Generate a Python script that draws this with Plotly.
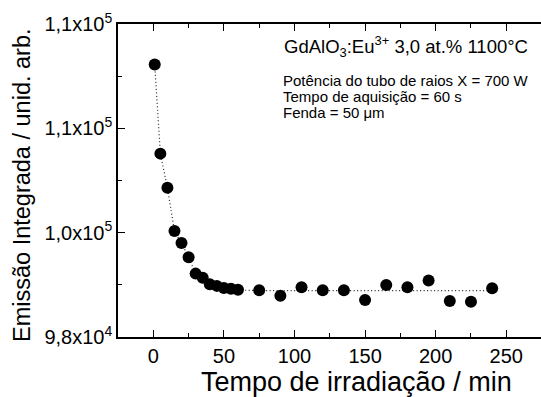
import plotly.graph_objects as go

# Data
time_min = [1, 5, 10, 15, 20, 25, 30, 35, 40, 45, 50, 55, 60, 75, 90, 105,
            120, 135, 150, 165, 180, 195, 210, 225, 240]
emission = [108450, 105030, 103720, 102060, 101600, 101060, 100430, 100270,
            100020, 99960, 99880, 99850, 99810, 99790, 99580, 99910, 99790,
            99790, 99420, 99990, 99910, 100170, 99380, 99350, 99870]

# dotted fit curve
fit_x = [1, 5, 10, 15, 20, 25, 30, 35, 40, 45, 50, 60, 75, 240]
fit_y = [108450, 105030, 103720, 102060, 101600, 101060, 100430, 100270,
         100020, 99950, 99880, 99800, 99780, 99775]

y_tickvals = [98000, 102000, 106000, 110000]
y_ticktext = ["9,8x10<sup>4</sup>", "1,0x10<sup>5</sup>",
              "1,1x10<sup>5</sup>", "1,1x10<sup>5</sup>"]
y_minor = [100000, 104000, 108000]
x_tickvals = [0, 50, 100, 150, 200, 250]
x_minor = [-25, 25, 75, 125, 175, 225, 275]

FONT = "Liberation Sans, Arial, sans-serif"

fig = go.Figure()
fig.add_trace(go.Scatter(
    x=fit_x, y=fit_y, mode="lines",
    line=dict(color="#222222", width=1.2, dash="1px,2.5px"),
    hoverinfo="skip", showlegend=False))
fig.add_trace(go.Scatter(
    x=time_min, y=emission, mode="markers",
    marker=dict(color="black", size=12),
    showlegend=False))

W, H = 541, 397
L, R, T, B = 118, 0, 24, 60
pw, ph = W - L - R, H - T - B


def px(xp):
    return (xp - L) / pw


def py(yp):
    return (H - B - yp) / ph


fig.update_layout(
    width=W, height=H,
    margin=dict(l=L, r=R, t=T, b=B),
    plot_bgcolor="white", paper_bgcolor="white",
    font=dict(family=FONT, color="black", size=20),
    xaxis=dict(
        range=[-25, 274.6], tickmode="array", tickvals=x_tickvals,
        ticks="inside", ticklen=7, tickwidth=1, tickcolor="black",
        showline=True, linecolor="black", linewidth=1.5, mirror="ticks",
        showgrid=False, zeroline=False,
        tickfont=dict(size=20),
        minor=dict(tickmode="array", tickvals=x_minor, ticks="inside",
                   ticklen=4, tickcolor="black", showgrid=False),
    ),
    yaxis=dict(
        range=[98000, 110000], tickmode="array", tickvals=y_tickvals,
        ticktext=y_ticktext,
        ticks="inside", ticklen=7, tickwidth=1, tickcolor="black",
        showline=True, linecolor="black", linewidth=1.5, mirror=False,
        showgrid=False, zeroline=False,
        tickfont=dict(size=20),
        minor=dict(tickmode="array", tickvals=y_minor, ticks="inside",
                   ticklen=4, tickcolor="black", showgrid=False),
    ),
)

ann = []
ann.append(dict(text="Emissão Integrada / unid. arb.", textangle=-90,
                x=px(22), y=py(185), xref="paper", yref="paper",
                xanchor="center", yanchor="middle", showarrow=False,
                font=dict(size=23.5)))
ann.append(dict(text="Tempo de irradiação / min",
                x=px(356), y=py(382), xref="paper", yref="paper",
                xanchor="center", yanchor="middle", showarrow=False,
                font=dict(size=27)))
ann.append(dict(text="GdAlO<sub>3</sub>:Eu<sup>3+</sup> 3,0 at.% 1100°C",
                x=px(282), y=py(46), xref="paper", yref="paper",
                xanchor="left", yanchor="middle", showarrow=False,
                font=dict(size=18.5)))
for txt, yc in [("Potência do tubo de raios X = 700 W", 80),
                ("Tempo de aquisição = 60 s", 96.5),
                ("Fenda = 50 μm", 112)]:
    ann.append(dict(text=txt, x=px(281), y=py(yc), xref="paper",
                    yref="paper", xanchor="left", yanchor="middle",
                    showarrow=False, font=dict(size=15)))
fig.update_layout(annotations=ann)

fig.write_html("out.html")
